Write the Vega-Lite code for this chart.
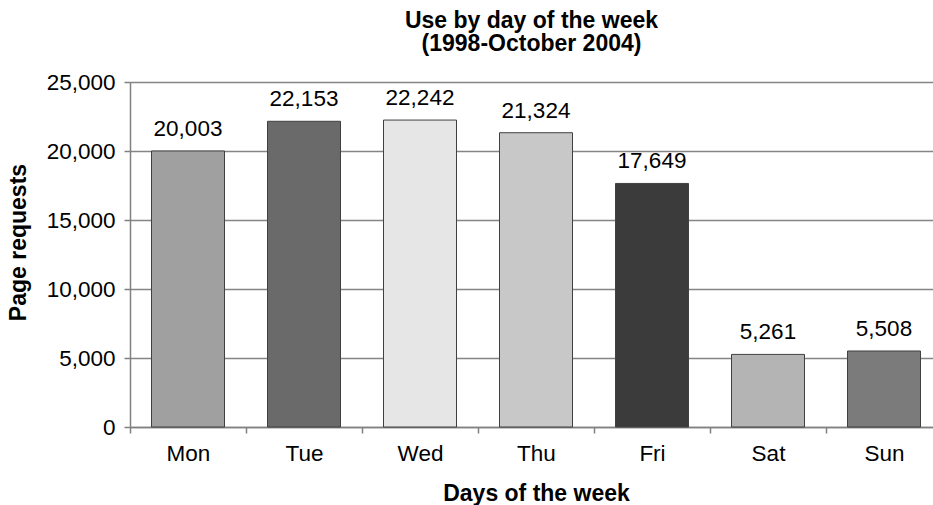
{
  "$schema": "https://vega.github.io/schema/vega-lite/v6.json",
  "autosize": {"type": "none"},
  "padding": {"left": 130, "top": 82, "right": 0, "bottom": 78},
  "width": 803,
  "height": 345,
  "background": "white",
  "title": {
    "text": ["Use by day of the week", "(1998-October 2004)"],
    "font": "Liberation Sans",
    "fontSize": 23,
    "fontWeight": "bold",
    "lineHeight": 23.5,
    "color": "black",
    "anchor": "middle",
    "offset": 15
  },
  "data": {
    "values": [
      {"day": "Mon", "requests": 20003},
      {"day": "Tue", "requests": 22153},
      {"day": "Wed", "requests": 22242},
      {"day": "Thu", "requests": 21324},
      {"day": "Fri", "requests": 17649},
      {"day": "Sat", "requests": 5261},
      {"day": "Sun", "requests": 5508}
    ]
  },
  "encoding": {
    "x": {
      "field": "day",
      "type": "nominal",
      "sort": null,
      "scale": {"range": [0, 812], "paddingInner": 0, "paddingOuter": 0},
      "axis": {
        "title": "Days of the week",
        "titleFont": "Liberation Sans",
        "titleFontSize": 23,
        "titleFontWeight": "bold",
        "titleColor": "black",
        "titleBaseline": "alphabetic",
        "titleAnchor": "middle",
        "titleY": 73,
        "titleX": 406,
        "labelFont": "Liberation Sans",
        "labelFontSize": 22.5,
        "labelColor": "black",
        "labelAngle": 0,
        "labelBaseline": "alphabetic",
        "labelPadding": 27,
        "tickBand": "extent",
        "tickSize": 6,
        "tickColor": "#808080",
        "domainColor": "#808080",
        "domainWidth": 1.5,
        "tickWidth": 1.5
      }
    },
    "y": {
      "field": "requests",
      "type": "quantitative",
      "scale": {"domain": [0, 25000], "nice": false},
      "axis": {
        "title": "Page requests",
        "titleFont": "Liberation Sans",
        "titleFontSize": 23,
        "titleFontWeight": "bold",
        "titleColor": "black",
        "titleAngle": -90,
        "titleBaseline": "middle",
        "titleX": -112,
        "titleY": 160,
        "titleAnchor": "middle",
        "values": [0, 5000, 10000, 15000, 20000, 25000],
        "format": ",.0f",
        "labelFont": "Liberation Sans",
        "labelFontSize": 22.5,
        "labelColor": "black",
        "labelPadding": 9,
        "tickSize": 6,
        "tickColor": "#808080",
        "tickWidth": 1.5,
        "domainColor": "#808080",
        "domainWidth": 1.5,
        "grid": true,
        "gridColor": "#858585",
        "gridWidth": 1.5
      }
    }
  },
  "layer": [
    {
      "mark": {"type": "bar", "width": 73, "stroke": "#404040", "strokeWidth": 1},
      "encoding": {
        "color": {
          "field": "day",
          "type": "nominal",
          "scale": {
            "domain": ["Mon", "Tue", "Wed", "Thu", "Fri", "Sat", "Sun"],
            "range": ["#a0a0a0", "#6a6a6a", "#e6e6e6", "#c8c8c8", "#3b3b3b", "#b4b4b4", "#7b7b7b"]
          },
          "legend": null
        }
      }
    },
    {
      "mark": {"type": "text", "font": "Liberation Sans", "fontSize": 22.5, "color": "black", "baseline": "alphabetic", "dy": -15},
      "encoding": {
        "text": {"field": "requests", "type": "quantitative", "format": ",.0f"}
      }
    }
  ],
  "config": {
    "view": {"stroke": null}
  }
}
